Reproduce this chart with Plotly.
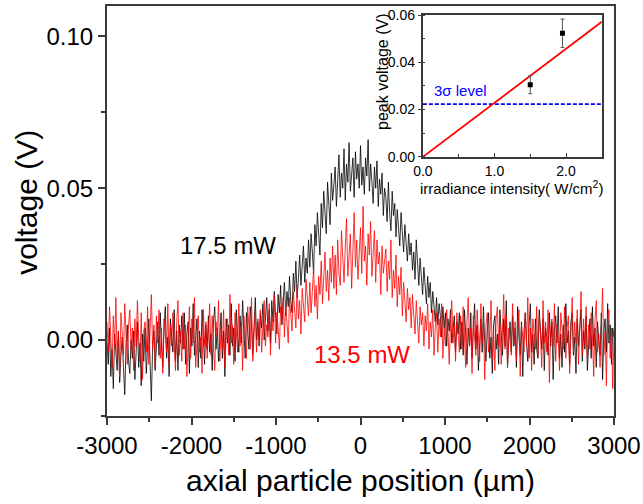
import numpy as np
import plotly.graph_objects as go

# ---- main plot data: axial position (µm) and voltage (mV, converted to V) ----
x_start, x_step, n_pts = -3000, 15, 401
position_um = [x_start + x_step * i for i in range(n_pts)]

black_17p5_mV = [
    -1, -8, 4, -12, -3, -16, 2, -6, -10, 3, -14, -5, 1, -9, -18, -2, 5, -7, -11, 0,
    -6, 3, -13, -4, 6, -9, -1, -15, 2, -7, 4, -11, -3, 7, -8, -20, -2, 3, -10, 1,
    6, -5, 9, -2, -9, 4, 11, -6, 1, -12, 7, 2, -4, 10, -7, 3, -10, 5, -1, 8,
    -3, 9, -8, 2, 6, -11, 4, -2, 12, -5, 0, 7, -9, 3, -6, 10, 1, -8, 5, -3,
    8, -4, 2, -10, 6, 11, -3, 4, -7, 1, 9, -6, 3, -12, 7, -1, 5, -5, 12, -2,
    4, -7, 10, 2, -4, 8, -1, 13, 3, -6, 9, 1, -3, 11, 5, -5, 7, 14, 0, 6,
    -2, 9, 4, 12, 0, 7, 14, 3, 10, -1, 13, 6, 16, 8, 2, 15, 9, 18, 5, 13,
    19, 8, 16, 11, 21, 13, 9, 22, 16, 26, 14, 20, 28, 18, 24, 31, 19, 27, 22, 33,
    24, 35, 29, 22, 38, 31, 42, 34, 28, 45, 37, 49, 40, 35, 52, 43, 38, 55, 46, 51,
    57, 44, 53, 61, 47, 55, 50, 63, 46, 58, 52, 65, 49, 56, 60, 47, 62, 53, 58, 50,
    64, 51, 57, 48, 60, 54, 66, 49, 58, 52, 45, 57, 50, 59, 44, 53, 48, 55, 41, 50,
    47, 39, 52, 42, 36, 49, 41, 45, 34, 43, 38, 31, 42, 35, 29, 38, 32, 26, 35, 28,
    32, 23, 29, 20, 33, 24, 18, 27, 21, 15, 24, 17, 12, 21, 14, 19, 9, 16, 11, 6,
    14, 5, 12, 8, 1, 11, 4, 9, -2, 7, 3, 10, -1, 5, 8, -4, 6, 2, 9, -3,
    6, -5, 10, 2, -8, 4, -2, 9, -6, 3, 12, -3, 5, -10, 1, 7, -4, 11, -1, -7,
    3, 9, -6, 1, -11, 5, 8, -3, 2, -8, 10, 4, -5, 7, -2, 13, -9, 0, 6, -4,
    8, -2, 4, -9, 11, 1, -5, 6, -12, 3, 9, -1, -7, 5, 12, -4, 2, -8, 7, -3,
    -6, 10, 2, -3, 7, -10, 4, 1, -5, 9, -2, 6, -13, 3, 8, -1, 11, -6, 2, -9,
    5, -4, 12, -1, 3, -8, 6, 9, -5, 1, -11, 7, -2, 4, 10, -7, 3, -3, 8, -10,
    2, 7, -6, 11, -2, 4, -9, 6, 0, -5, 9, -13, 3, 7, -4, 12, -1, 5, -8, 4,
    1,
]

red_13p5_mV = [
    6, -4, 11, 2, -9, 8, -2, 14, -6, 3, -12, 9, 1, -5, 12, -1, -8, 5, 10, -3,
    4, -10, 7, -2, 13, 1, -7, 9, -13, 3, 6, -4, 11, -8, 2, 15, -3, 5, -9, 8,
    -1, 10, -6, 4, -11, 7, 2, -4, 12, -8, 5, -2, 9, 0, -10, 6, 13, -5, 3, -7,
    9, -3, 5, -12, 2, 11, -6, 7, -1, 14, -9, 3, 8, -4, 1, -11, 10, -2, 6, -6,
    3, 12, -5, 8, -2, -10, 6, 1, 13, -7, 4, -3, 10, -9, 2, 7, -5, 15, -1, 5,
    -8, 9, 3, -4, 12, -2, 6, -10, 8, 1, -6, 11, 4, -3, 14, -7, 2, 9, -4, 7,
    0, 10, -4, 7, 13, -2, 5, 1, 12, -5, 8, 3, 15, -1, 9, 4, -3, 11, 6, 14,
    1, 12, 5, -1, 14, 8, 3, 16, 9, 4, 18, 7, 13, 2, 17, 10, 6, 20, 12, 8,
    19, 9, 16, 24, 11, 18, 7, 21, 15, 26, 12, 20, 29, 16, 23, 13, 27, 19, 31, 17,
    28, 15, 33, 22, 18, 36, 25, 19, 31, 40, 21, 29, 35, 17, 27, 42, 24, 33, 20, 30,
    37, 22, 44, 26, 31, 18, 35, 28, 39, 21, 30, 36, 19, 33, 25, 29, 15, 31, 22, 27,
    30, 16, 26, 20, 33, 14, 23, 17, 28, 11, 21, 15, 24, 8, 19, 13, 6, 17, 10, 14,
    4, 15, 8, 2, 13, 6, -1, 11, 5, 9, -2, 8, 3, 12, -3, 6, 1, 10, -5, 4,
    9, -4, 7, 1, 12, -6, 4, -2, 10, 3, -8, 6, 13, -1, 5, -7, 9, 2, -4, 8,
    -3, 11, 2, -9, 6, 14, -2, 4, -11, 8, 1, -5, 10, 3, -7, 12, -1, 6, -13, 5,
    9, -4, 1, 13, -6, 3, -10, 7, 11, -2, 5, -8, 2, 15, -3, 8, -9, 4, 0, -5,
    12, -1, 6, -7, 3, 10, -12, 5, 1, -4, 9, -2, 14, -6, 4, -10, 7, 2, -3, 11,
    -5, 8, 2, -9, 13, -1, 6, -4, 10, -14, 3, 7, -2, 12, -7, 5, 1, -10, 9, 4,
    -3, 11, -6, 4, 8, -11, 2, 14, -4, 6, -1, 10, -8, 3, 16, -5, 7, -2, 11, -7,
    5, -3, 9, 1, -12, 6, 13, -4, 2, -9, 8, 17, -5, 3, -15, 7, 10, -6, 4, -16,
    2,
]

black_V = np.array(black_17p5_mV) / 1000.0
red_V = np.array(red_13p5_mV) / 1000.0

main_y_ticks = [0.0, 0.05, 0.10]
main_y_labels = ["0.00", "0.05", "0.10"]
main_x_ticks = [-3000, -2000, -1000, 0, 1000, 2000, 3000]
main_x_labels = ["-3000", "-2000", "-1000", "0", "1000", "2000", "3000"]

# ---- inset data ----
irradiance = [1.5, 1.95]
peak_voltage = [0.0305, 0.0523]
peak_err = [0.0038, 0.006]
fit_x = [0.0, 2.5]
fit_y = [0.0, 0.0572]
sigma3_level = 0.0223
inset_x_ticks = [0.0, 1.0, 2.0]
inset_x_labels = ["0.0", "1.0", "2.0"]
inset_y_ticks = [0.0, 0.02, 0.04, 0.06]
inset_y_labels = ["0.00", "0.02", "0.04", "0.06"]

FONT = "Liberation Sans, Arial, sans-serif"
FRAME = "#3a3a3a"

fig = go.Figure()
fig.add_trace(go.Scatter(x=position_um, y=black_V, mode="lines",
                         line=dict(color="black", width=0.8), showlegend=False))
fig.add_trace(go.Scatter(x=position_um, y=red_V, mode="lines",
                         line=dict(color="red", width=0.8), showlegend=False))

# inset traces
fig.add_trace(go.Scatter(x=[0, 2.5], y=[sigma3_level, sigma3_level], mode="lines",
                         line=dict(color="blue", width=1.8, dash="4px,2px"),
                         xaxis="x2", yaxis="y2", showlegend=False))
fig.add_trace(go.Scatter(x=fit_x, y=fit_y, mode="lines",
                         line=dict(color="red", width=1.8),
                         xaxis="x2", yaxis="y2", showlegend=False))
fig.add_trace(go.Scatter(x=irradiance, y=peak_voltage, mode="markers",
                         marker=dict(color="black", symbol="square", size=5),
                         error_y=dict(type="data", array=peak_err, color="#555",
                                      thickness=1, width=2),
                         xaxis="x2", yaxis="y2", showlegend=False))

fig.update_layout(
    width=643, height=504,
    margin=dict(l=107, r=29, t=6, b=88, autoexpand=False),
    paper_bgcolor="white", plot_bgcolor="white",
    font=dict(family=FONT, color="black"),
    xaxis=dict(range=[-3000, 3000], tickvals=main_x_ticks, ticktext=main_x_labels,
               ticks="outside", ticklen=7, tickwidth=1.5, tickcolor=FRAME,
               minor=dict(dtick=500, ticks="outside", ticklen=4, tickcolor=FRAME),
               showline=True, linecolor=FRAME, linewidth=2, mirror=True, automargin=False,
               showgrid=False, zeroline=False, tickfont=dict(size=24)),
    yaxis=dict(range=[-0.025, 0.11], tickvals=main_y_ticks, ticktext=main_y_labels,
               ticks="outside", ticklen=7, tickwidth=1.5, tickcolor=FRAME,
               minor=dict(dtick=0.025, tick0=0, ticks="outside", ticklen=4, tickcolor=FRAME),
               showline=True, linecolor=FRAME, linewidth=2, mirror=True, automargin=False,
               showgrid=False, zeroline=False, tickfont=dict(size=24)),
    xaxis2=dict(domain=[0.623, 0.976], anchor="y2", range=[0, 2.5],
                tickvals=inset_x_ticks, ticktext=inset_x_labels,
                ticks="inside", ticklen=4, tickcolor=FRAME,
                minor=dict(dtick=0.5, ticks="inside", ticklen=3, tickcolor=FRAME),
                showline=True, linecolor=FRAME, linewidth=2, mirror=True, automargin=False,
                showgrid=False, zeroline=False, tickfont=dict(size=14)),
    yaxis2=dict(domain=[0.632, 0.978], anchor="x2", range=[0, 0.06],
                tickvals=inset_y_ticks, ticktext=inset_y_labels,
                ticks="outside", ticklen=3, tickcolor=FRAME,
                minor=dict(dtick=0.01, ticks="inside", ticklen=2, tickcolor=FRAME),
                showline=True, linecolor=FRAME, linewidth=2, mirror=True, automargin=False,
                showgrid=False, zeroline=False, tickfont=dict(size=14)),
    annotations=[
        dict(text="axial particle position (µm)", xref="paper", yref="paper",
             x=0.5, y=-0.158, xanchor="center", yanchor="middle",
             showarrow=False, font=dict(size=30)),
        dict(text="voltage (V)", xref="paper", yref="paper",
             x=-0.158, y=0.522, xanchor="center", yanchor="middle", textangle=-90,
             showarrow=False, font=dict(size=30)),
        dict(text="17.5 mW", x=-1565, y=0.031, xref="x", yref="y",
             showarrow=False, font=dict(size=24, color="black")),
        dict(text="13.5 mW", x=18, y=-0.0046, xref="x", yref="y",
             showarrow=False, font=dict(size=24, color="red")),
        dict(text="3σ level", x=0.53, y=0.0279, xref="x2", yref="y2",
             showarrow=False, font=dict(size=15, color="blue")),
        dict(text="peak voltage (V)", xref="paper", yref="paper",
             x=(382 - 107) / 507, y=(416 - 72) / 410, xanchor="center", yanchor="middle",
             textangle=-90, showarrow=False, font=dict(size=16)),
        dict(text="irradiance intensity( W/cm<sup>2</sup>)", xref="paper", yref="paper",
             x=(511 - 107) / 507, y=(416 - 188) / 410, xanchor="center", yanchor="middle",
             showarrow=False, font=dict(size=15)),
    ],
)

fig.write_html("out.html", config={"displayModeBar": False},
               post_script="document.body.style.margin='0';document.body.style.overflow='hidden';")
